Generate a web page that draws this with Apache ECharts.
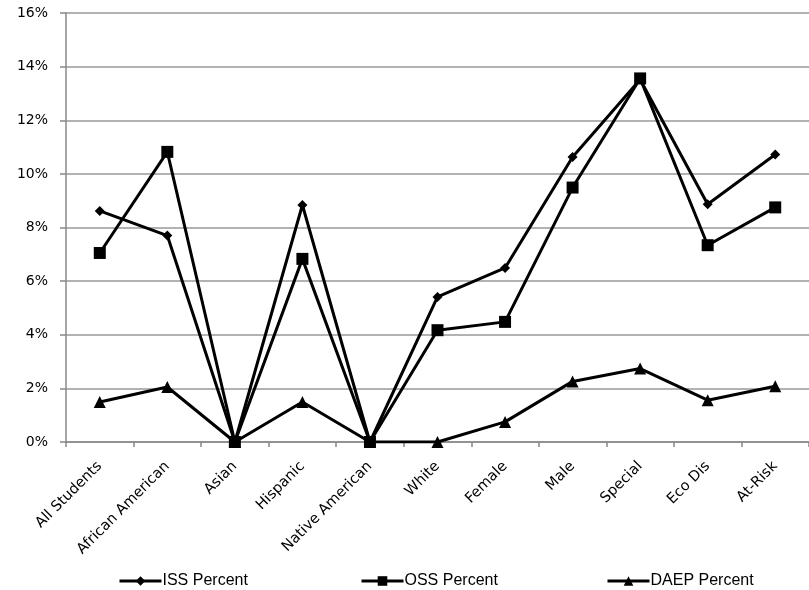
<!DOCTYPE html>
<html>
<head>
<meta charset="utf-8">
<script src="https://cdn.jsdelivr.net/npm/echarts@6/dist/echarts.min.js"></script>
<style>html,body{margin:0;padding:0;background:#fff}#c{width:809px;height:590px}</style>
</head>
<body>
<div id="c"></div>
<script>
const categories = ['All Students','African American','Asian','Hispanic','Native American','White','Female','Male','Special','Eco Dis','At-Risk'];
const issPercent  = [8.62, 7.70, 0, 8.84, 0, 5.41, 6.49, 10.63, 13.52, 8.87, 10.72];
const ossPercent  = [7.05, 10.82, 0, 6.83, 0, 4.17, 4.48, 9.49, 13.56, 7.34, 8.75];
const daepPercent = [1.49, 2.05, 0, 1.49, 0, 0, 0.75, 2.26, 2.74, 1.56, 2.08];
const yTicks = {min: 0, max: 16, interval: 2};

const chart = echarts.init(document.getElementById('c'));
const lineStyle = {color: '#000', width: 3};
function legend(name, left) {
  return {
    data: [name], left: left, top: 568, itemWidth: 42, itemHeight: 12, itemGap: 0,
    lineStyle: {width: 3, color: '#000'},
    textStyle: {fontFamily: 'Liberation Sans Narrow, Liberation Sans, sans-serif', fontSize: 16, color: '#000', padding: [0,0,0,-4]}
  };
}
chart.setOption({
  animation: false,
  backgroundColor: '#fff',
  legend: [legend('ISS Percent', 113), legend('OSS Percent', 355), legend('DAEP Percent', 601)],
  grid: {left: 66, top: 13, right: -8, bottom: 148, containLabel: false},
  xAxis: {
    type: 'category', data: categories, boundaryGap: true,
    axisLine: {lineStyle: {color: '#888', width: 1.5}},
    axisTick: {show: true, length: 5, interval: 0, lineStyle: {color: '#888', width: 1.5}},
    axisLabel: {interval: 0, rotate: 45, margin: 22, color: '#000', fontFamily: 'DejaVu Sans', fontSize: 14.5}
  },
  yAxis: {
    type: 'value', min: yTicks.min, max: yTicks.max, interval: yTicks.interval,
    axisLine: {show: true, lineStyle: {color: '#888', width: 1.5}},
    axisTick: {show: true, length: 6, lineStyle: {color: '#888', width: 1.5}},
    splitLine: {lineStyle: {color: '#999', width: 1.5}},
    axisLabel: {formatter: '{value}%', margin: 18, color: '#000', fontFamily: 'DejaVu Sans', fontSize: 14}
  },
  series: [
    {name: 'ISS Percent', type: 'line', data: issPercent, symbol: 'diamond', symbolSize: 10, lineStyle: lineStyle, itemStyle: {color: '#000'}, z: 3},
    {name: 'OSS Percent', type: 'line', data: ossPercent, symbol: 'rect', symbolSize: 12, lineStyle: lineStyle, itemStyle: {color: '#000'}, z: 2},
    {name: 'DAEP Percent', type: 'line', data: daepPercent, symbol: 'triangle', symbolSize: 12, lineStyle: lineStyle, itemStyle: {color: '#000'}, z: 1}
  ]
});
</script>
</body>
</html>
